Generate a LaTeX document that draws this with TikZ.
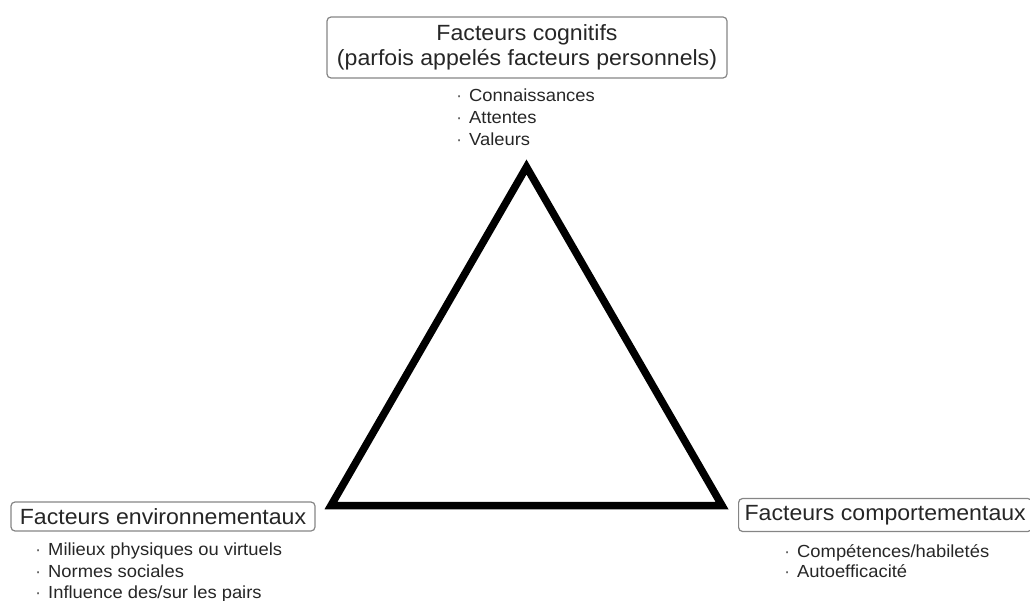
\documentclass[tikz,border=0pt]{standalone}
\usepackage{fontspec}
\setmainfont{Liberation Sans}[FakeStretch=1.05]
\usepackage{tikz}
\usetikzlibrary{positioning}
\definecolor{texte}{HTML}{262626}
\definecolor{cadre}{HTML}{858585}
\definecolor{gris}{HTML}{5A5A5A}
\newcommand{\puce}{\llap{\textcolor{gris}{·}\hspace{7pt}}}

\begin{document}
\begin{tikzpicture}[x=1pt,y=-1pt,line join=miter]
	\def \rowbase{505.5}
	\def \rowapex{167}
	\tikzstyle{f-node}=[draw=cadre,line width=1.2pt,rounded corners=4pt,text=texte,inner xsep=5pt,inner ysep=0pt,font=\fontsize{22}{25}\selectfont,align=center]
	\tikzstyle{b-node}=[anchor=base west,inner sep=0pt,text=texte,font=\fontsize{17.5}{21}\selectfont]
	\useasboundingbox (0,0) rectangle (1030,601);

	% corners of the triangle
	\coordinate (apex)	at (526.5,\rowapex);
	\coordinate (bleft)	at (331,\rowbase);
	\coordinate (bright)	at (722,\rowbase);
	\draw[line width=7.5pt] (apex) -- (bright) -- (bleft) -- cycle;

	% factor boxes
	\node[f-node,minimum width=400pt,minimum height=61pt]	(cogn)	at (527,47.5)	{Facteurs cognitifs\\(parfois appelés facteurs personnels)};
	\node[f-node,minimum width=304pt,minimum height=29pt]	(envi)	at (163,516.5)	{Facteurs environnementaux};
	\node[f-node,anchor=west,inner xsep=6pt,minimum height=33pt]	(comp)	at (738,515)	{Facteurs comportementaux};

	% cognitive items
	\node[b-node]	(c0)	at (469,102)	{\puce Connaissances};
	\node[b-node]	(c1)	at (469,124)	{\puce Attentes};
	\node[b-node]	(c2)	at (469,146)	{\puce Valeurs};

	% environmental items
	\node[b-node]	(e0)	at (48,555)	{\puce Milieux physiques ou virtuels};
	\node[b-node]	(e1)	at (48,577)	{\puce Normes sociales};
	\node[b-node]	(e2)	at (48,598.5)	{\puce Influence des/sur les pairs};

	% behavioural items
	\node[b-node]	(b0)	at (797,557)	{\puce Compétences/habiletés};
	\node[b-node]	(b1)	at (797,577)	{\puce Autoefficacité};
\end{tikzpicture}
\end{document}
